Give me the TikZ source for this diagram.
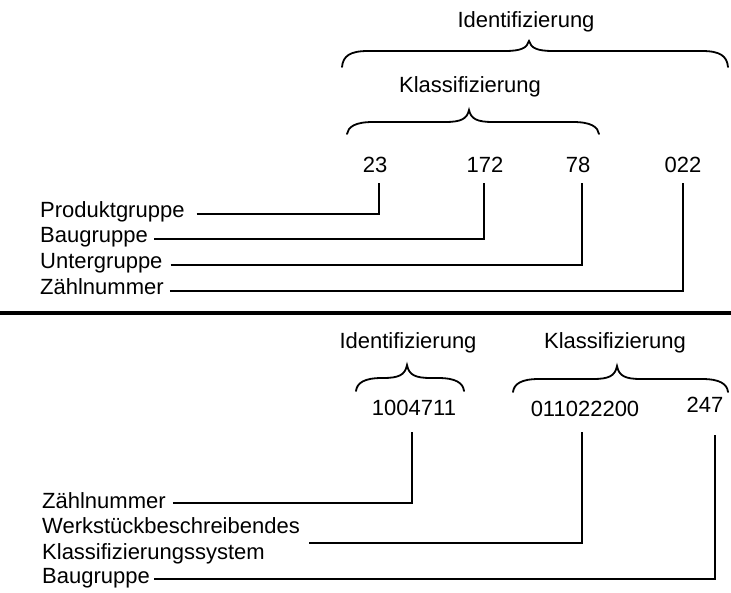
\documentclass[tikz,border=0pt]{standalone}
\usepackage{fontspec}
\setmainfont{Liberation Sans}
\usetikzlibrary{calc}
\newcommand\mybrace[6]{% x1, x2, tip x, end y, horizontal y, tip y
  \draw[brc] (#1,#4) .. controls (#1+1,#5+5) and (#1+8,#5) .. (#1+26,#5)
    -- (#3-24,#5) .. controls (#3-8,#5) and (#3-2,#5-3) .. (#3,#6)
    .. controls (#3+2,#5-3) and (#3+8,#5) .. (#3+24,#5)
    -- (#2-26,#5) .. controls (#2-8,#5) and (#2-1,#5+5) .. (#2,#4);}
\begin{document}
\begin{tikzpicture}[x=1pt,y=-1pt,
  txt/.style={inner sep=0pt, font=\fontsize{22}{26}\selectfont},
  lbl/.style={txt, anchor=base west},
  num/.style={txt, anchor=base},
  conn/.style={line width=1.8pt},
  brc/.style={line width=1.8pt, line cap=round}]
\useasboundingbox (0,0) rectangle (731,593);

% ---------- upper part ----------
\node[num] (tid) at (526,28) {Identifizierung};
\mybrace{342}{728}{529}{67}{51}{41}
\node[num] (tkl) at (470,93) {Klassifizierung};
\mybrace{347}{599}{469}{134}{122}{110}

\node[num] (n23)  at (375,173) {23};
\node[num] (n172) at (485,173) {172};
\node[num] (n78)  at (578,173) {78};
\node[num] (n022) at (683,173) {022};

\node[lbl] (lp) at (40,218) {Produktgruppe};
\node[lbl] (lb) at (40,243) {Baugruppe};
\node[lbl] (lu) at (40,269) {Untergruppe};
\node[lbl] (lz) at (40,295) {Zählnummer};

\draw[conn] ($(lp.base east)+(12,-4)$) -| ($(n23.south)+(4,10)$);
\draw[conn] ($(lb.base east)+(6,-4)$) -| ($(n172.south)+(-1,10)$);
\draw[conn] ($(lu.base east)+(8,-4)$) -| ($(n78.south)+(4,10)$);
\draw[conn] ($(lz.base east)+(6,-4)$) -| ($(n022.south)+(0,10)$);

% ---------- separator ----------
\draw[line width=3.6pt] (0,313) -- (731,313);

% ---------- lower part ----------
\node[num] (bid) at (408,349) {Identifizierung};
\node[num] (bkl) at (615,349) {Klassifizierung};
\mybrace{356}{464}{407}{391}{378}{365}
\mybrace{513}{728}{617}{392}{379}{366}

\node[num] (m1) at (414,416) {1004711};
\node[num] (m2) at (585,417) {011022200};
\node[num] (m3) at (705,413) {247};

\node[lbl] (bz) at (42,508) {Zählnummer};
\node[lbl] (bw) at (42,533) {Werkstückbeschreibendes};
\node[lbl] (bk) at (42,559) {Klassifizierungssystem};
\node[lbl] (bb) at (42,583) {Baugruppe};

\draw[conn] ($(bz.base east)+(7,-5)$) -| ($(m1.south)+(-2,16)$);
\draw[conn] ($(bw.base east)+(9,10)$) -| ($(m2.south)+(-3,15)$);
\draw[conn] ($(bb.base east)+(4,-4)$) -| ($(m3.south)+(10,22)$);
\end{tikzpicture}
\end{document}
